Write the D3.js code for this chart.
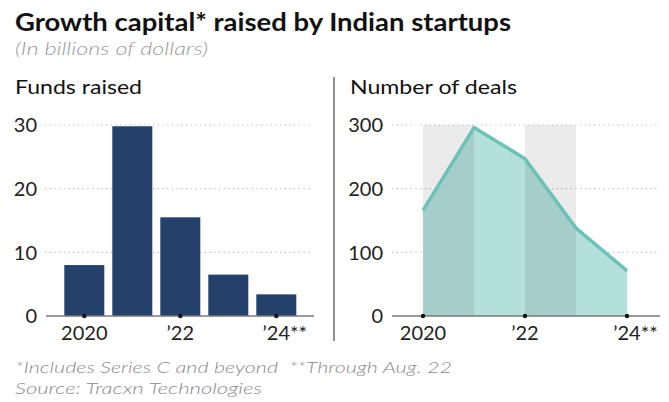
<!DOCTYPE html>
<html><head><meta charset="utf-8">
<script src="https://cdn.jsdelivr.net/npm/d3@7"></script>
<style>
html,body{margin:0;padding:0;background:#fff;}
svg{display:block;font-family:Lato,"Open Sans",sans-serif;}
</style></head>
<body>
<svg id="c" width="669" height="402"></svg>
<script>
const years = [2020, 2021, 2022, 2023, 2024];
const fundsRaised = [8.0, 29.8, 15.5, 6.5, 3.4];
const dealCounts = [166, 296, 247, 138, 71];
const fundsTicks = [0, 10, 20, 30];
const dealTicks = [0, 100, 200, 300];
const xTickYears = [2020, 2022, 2024];
const xTickLabels = {2020: "2020", 2022: "\u201922", 2024: "\u201924"};
const shadedSpans = [[2020, 2021], [2022, 2023]];

const svg = d3.select("#c");

function label(x, y, size, txt, width, opts = {}) {
  const t = svg.append("text").attr("x", x).attr("y", y).attr("font-size", size)
    .attr("fill", opts.fill || "#111").style("white-space", "pre").text(txt);
  if (opts.weight) t.attr("font-weight", opts.weight);
  if (opts.italic) t.attr("font-style", "italic");
  if (width) t.attr("textLength", width).attr("lengthAdjust", "spacingAndGlyphs");
  return t;
}

// Titles
label(15, 31, 25.5, "Growth capital* raised by Indian startups", 496, {weight: 700});
label(15, 55, 17.5, "(In billions of dollars)", 193, {italic: true, weight: 300, fill: "#9a9a9a"});
label(15, 94, 20, "Funds raised", 127);
label(350, 94, 20, "Number of deals", 167);
svg.append("line").attr("x1", 334).attr("x2", 334).attr("y1", 77).attr("y2", 341)
  .attr("stroke", "#555").attr("stroke-width", 1.3);

// footnotes
label(15, 373, 16.5, "*Includes Series C and beyond  **Through Aug. 22", 437, {italic: true, weight: 300, fill: "#8a8a8a"});
label(15, 394, 16.5, "Source: Tracxn Technologies", 247, {italic: true, weight: 300, fill: "#8a8a8a"});

function xLabels(g, xpos) {
  xTickYears.forEach(yr => {
    const x = xpos(yr);
    g.append("circle").attr("cx", x).attr("cy", 316).attr("r", 2.2).attr("fill", "#111");
    const t = g.append("text").attr("y", 340).attr("font-size", 20).attr("fill", "#222")
      .text(xTickLabels[yr]);
    const w = t.node().getComputedTextLength();
    t.attr("x", x - w / 2);
    if (yr === 2024) t.append("tspan").text("**");
  });
}

// ---- Left chart: bars
const yL = d3.scaleLinear().domain([0, 30]).range([316, 125]);
const xL = d3.scaleBand().domain(years).range([60.3, 300.3]).paddingInner(1/6).paddingOuter(1/12);
const gL = svg.append("g");
gL.selectAll("line.grid").data(fundsTicks.filter(d => d > 0)).join("line")
  .attr("x1", 45).attr("x2", 313).attr("y1", d => yL(d)).attr("y2", d => yL(d))
  .attr("stroke", "#bbb").attr("stroke-width", 1.2).attr("stroke-dasharray", "1.2,3.5");
gL.selectAll("rect").data(years).join("rect")
  .attr("x", d => xL(d)).attr("width", xL.bandwidth())
  .attr("y", (d, i) => yL(fundsRaised[i])).attr("height", (d, i) => yL(0) - yL(fundsRaised[i]))
  .attr("fill", "#23416b");
gL.append("line").attr("x1", 46).attr("x2", 314).attr("y1", 316).attr("y2", 316)
  .attr("stroke", "#777").attr("stroke-width", 1.5);
gL.selectAll("text.yt").data(fundsTicks).join("text").attr("class", "yt")
  .attr("x", 37).attr("y", d => yL(d)).attr("dy", "0.36em").attr("text-anchor", "end")
  .attr("font-size", 20).attr("fill", "#222").text(d => d);
xLabels(gL, d => xL(d) + xL.bandwidth() / 2);

// ---- Right chart: area
const yR = d3.scaleLinear().domain([0, 300]).range([316, 125]);
const xR = d3.scalePoint().domain(years).range([423, 627]);
const gR = svg.append("g");
gR.selectAll("line.grid").data(dealTicks.filter(d => d > 0)).join("line")
  .attr("x1", 392).attr("x2", 658).attr("y1", d => yR(d)).attr("y2", d => yR(d))
  .attr("stroke", "#bbb").attr("stroke-width", 1.2).attr("stroke-dasharray", "1.2,3.5");
const pts = years.map((y, i) => [y, dealCounts[i]]);
gR.append("path").datum(pts)
  .attr("d", d3.area().x(d => xR(d[0])).y0(yR(0)).y1(d => yR(d[1])))
  .attr("fill", "#b4e0dc");
gR.selectAll("rect.band").data(shadedSpans).join("rect").attr("class", "band")
  .attr("x", d => xR(d[0])).attr("width", d => xR(d[1]) - xR(d[0]))
  .attr("y", yR(300)).attr("height", yR(0) - yR(300))
  .attr("fill", "#000").attr("fill-opacity", 0.078);
gR.append("path").datum(pts)
  .attr("d", d3.line().x(d => xR(d[0])).y(d => yR(d[1])))
  .attr("fill", "none").attr("stroke", "#6cc2b7").attr("stroke-width", 3.5)
  .attr("stroke-linejoin", "round");
gR.append("line").attr("x1", 392).attr("x2", 660).attr("y1", 316).attr("y2", 316)
  .attr("stroke", "#777").attr("stroke-width", 1.5);
gR.selectAll("text.yt").data(dealTicks).join("text").attr("class", "yt")
  .attr("x", 383).attr("y", d => yR(d)).attr("dy", "0.36em").attr("text-anchor", "end")
  .attr("font-size", 20).attr("fill", "#222").text(d => d);
xLabels(gR, d => xR(d));
</script>
</body></html>
